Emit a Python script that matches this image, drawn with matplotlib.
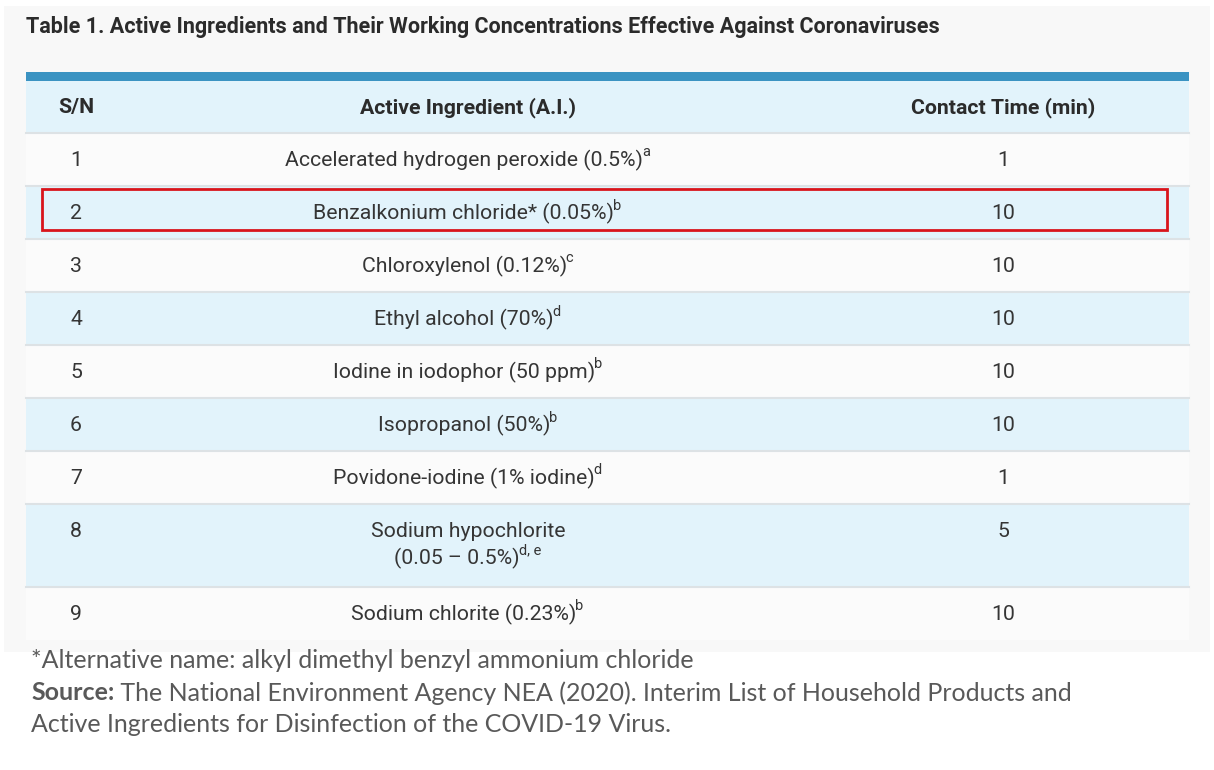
import matplotlib
matplotlib.use("Agg")
import matplotlib.pyplot as plt
from matplotlib.patches import Rectangle

# ---- data ----
title = "Table 1. Active Ingredients and Their Working Concentrations Effective Against Coronaviruses"
headers = ["S/N", "Active Ingredient (A.I.)", "Contact Time (min)"]
sn = ["1", "2", "3", "4", "5", "6", "7", "8", "9"]
ingredients = [
    "Accelerated hydrogen peroxide (0.5%)",
    "Benzalkonium chloride* (0.05%)",
    "Chloroxylenol (0.12%)",
    "Ethyl alcohol (70%)",
    "Iodine in iodophor (50 ppm)",
    "Isopropanol (50%)",
    "Povidone-iodine (1% iodine)",
    "Sodium hypochlorite\n(0.05 \u2013 0.5%)",
    "Sodium chlorite (0.23%)",
]
sups = ["a", "b", "c", "d", "b", "b", "d", "d, e", "b"]
contact_time = ["1", "10", "10", "10", "10", "10", "1", "5", "10"]
highlight_row = 1
footnote = "*Alternative name: alkyl dimethyl benzyl ammonium chloride"
source_bold = "Source:"
source_text = " The National Environment Agency NEA (2020). Interim List of Household Products and"
source_text2 = "Active Ingredients for Disinfection of the COVID-19 Virus."

W, H = 1214, 770
fig = plt.figure(figsize=(W / 100, H / 100), dpi=100)
ax = fig.add_axes([0, 0, 1, 1])
ax.set_xlim(0, W)
ax.set_ylim(H, 0)
ax.axis("off")

# panel
ax.add_patch(Rectangle((4, 6), 1206, 646, facecolor="#f8f8f8", edgecolor="none"))

tx0, tx1 = 26, 1189
ax.text(tx0, 27, title, fontsize=15.5, fontweight="bold", family="Roboto",
        color="#2b2b2b", va="center", ha="left")

# top bar
ax.add_patch(Rectangle((tx0, 72), tx1 - tx0, 9, facecolor="#3b93c2", edgecolor="none"))

col_x = [76, 468, 1003]
blue = "#e2f3fb"
white = "#fbfbfb"
sep = "#dde2e5"
txtc = "#353535"
FS = 15.3

# header
y = 81
hh = 52
ax.add_patch(Rectangle((tx0, y), tx1 - tx0, hh, facecolor=blue, edgecolor="none"))
for cx, h in zip(col_x, headers):
    ax.text(cx, y + hh / 2 + 1, h, fontsize=FS, fontweight="bold", family="Roboto",
            color="#2b2b2b", ha="center", va="center")
y += hh
ax.plot([tx0, tx1], [y, y], color=sep, lw=1.5)

fig.canvas.draw()
renderer = fig.canvas.get_renderer()

def width_px(t):
    return t.get_window_extent(renderer).width

row_h = [53] * 9
row_h[7] = 83
for i in range(9):
    rh = row_h[i]
    ax.add_patch(Rectangle((tx0, y), tx1 - tx0, rh,
                           facecolor=blue if i % 2 == 1 else white, edgecolor="none"))
    if i < 8:
        ax.plot([tx0, tx1], [y + rh, y + rh], color=sep, lw=1.5)
    yc = y + 26.5 + 1
    ax.text(col_x[0], yc, sn[i], fontsize=FS, family="Roboto", color=txtc,
            ha="center", va="center")
    ax.text(col_x[2], yc, contact_time[i], fontsize=FS, family="Roboto", color=txtc,
            ha="center", va="center")
    lines = ingredients[i].split("\n")
    for j, line in enumerate(lines):
        ly = yc + j * 27
        is_last = j == len(lines) - 1
        t = ax.text(0, ly, line, fontsize=FS, family="Roboto", color=txtc,
                    ha="left", va="center")
        wm = width_px(t)
        ws = 0
        if is_last:
            s = ax.text(0, ly - 8, sups[i], fontsize=10.5, family="Roboto", color=txtc,
                        ha="left", va="center")
            ws = width_px(s)
        total = wm + ws
        left = col_x[1] - total / 2
        t.set_x(left)
        if is_last:
            s.set_x(left + wm - 1)
    if i == highlight_row:
        ax.add_patch(Rectangle((42, y + 3), 1125, 41, facecolor="none",
                               edgecolor="#d9141b", lw=2))
    y += rh

# footnotes
fc = "#595959"
FF = 18
ax.text(31, 661, footnote, fontsize=FF, family="Lato", color=fc, ha="left", va="center")
sb = ax.text(31, 693, source_bold, fontsize=FF, family="Lato", fontweight="bold",
             color=fc, ha="left", va="center")
wb = width_px(sb)
ax.text(31 + wb, 693, source_text, fontsize=FF, family="Lato", color=fc,
        ha="left", va="center")
ax.text(31, 725, source_text2, fontsize=FF, family="Lato", color=fc, ha="left", va="center")

fig.savefig("out.png", dpi=100, facecolor="white")
